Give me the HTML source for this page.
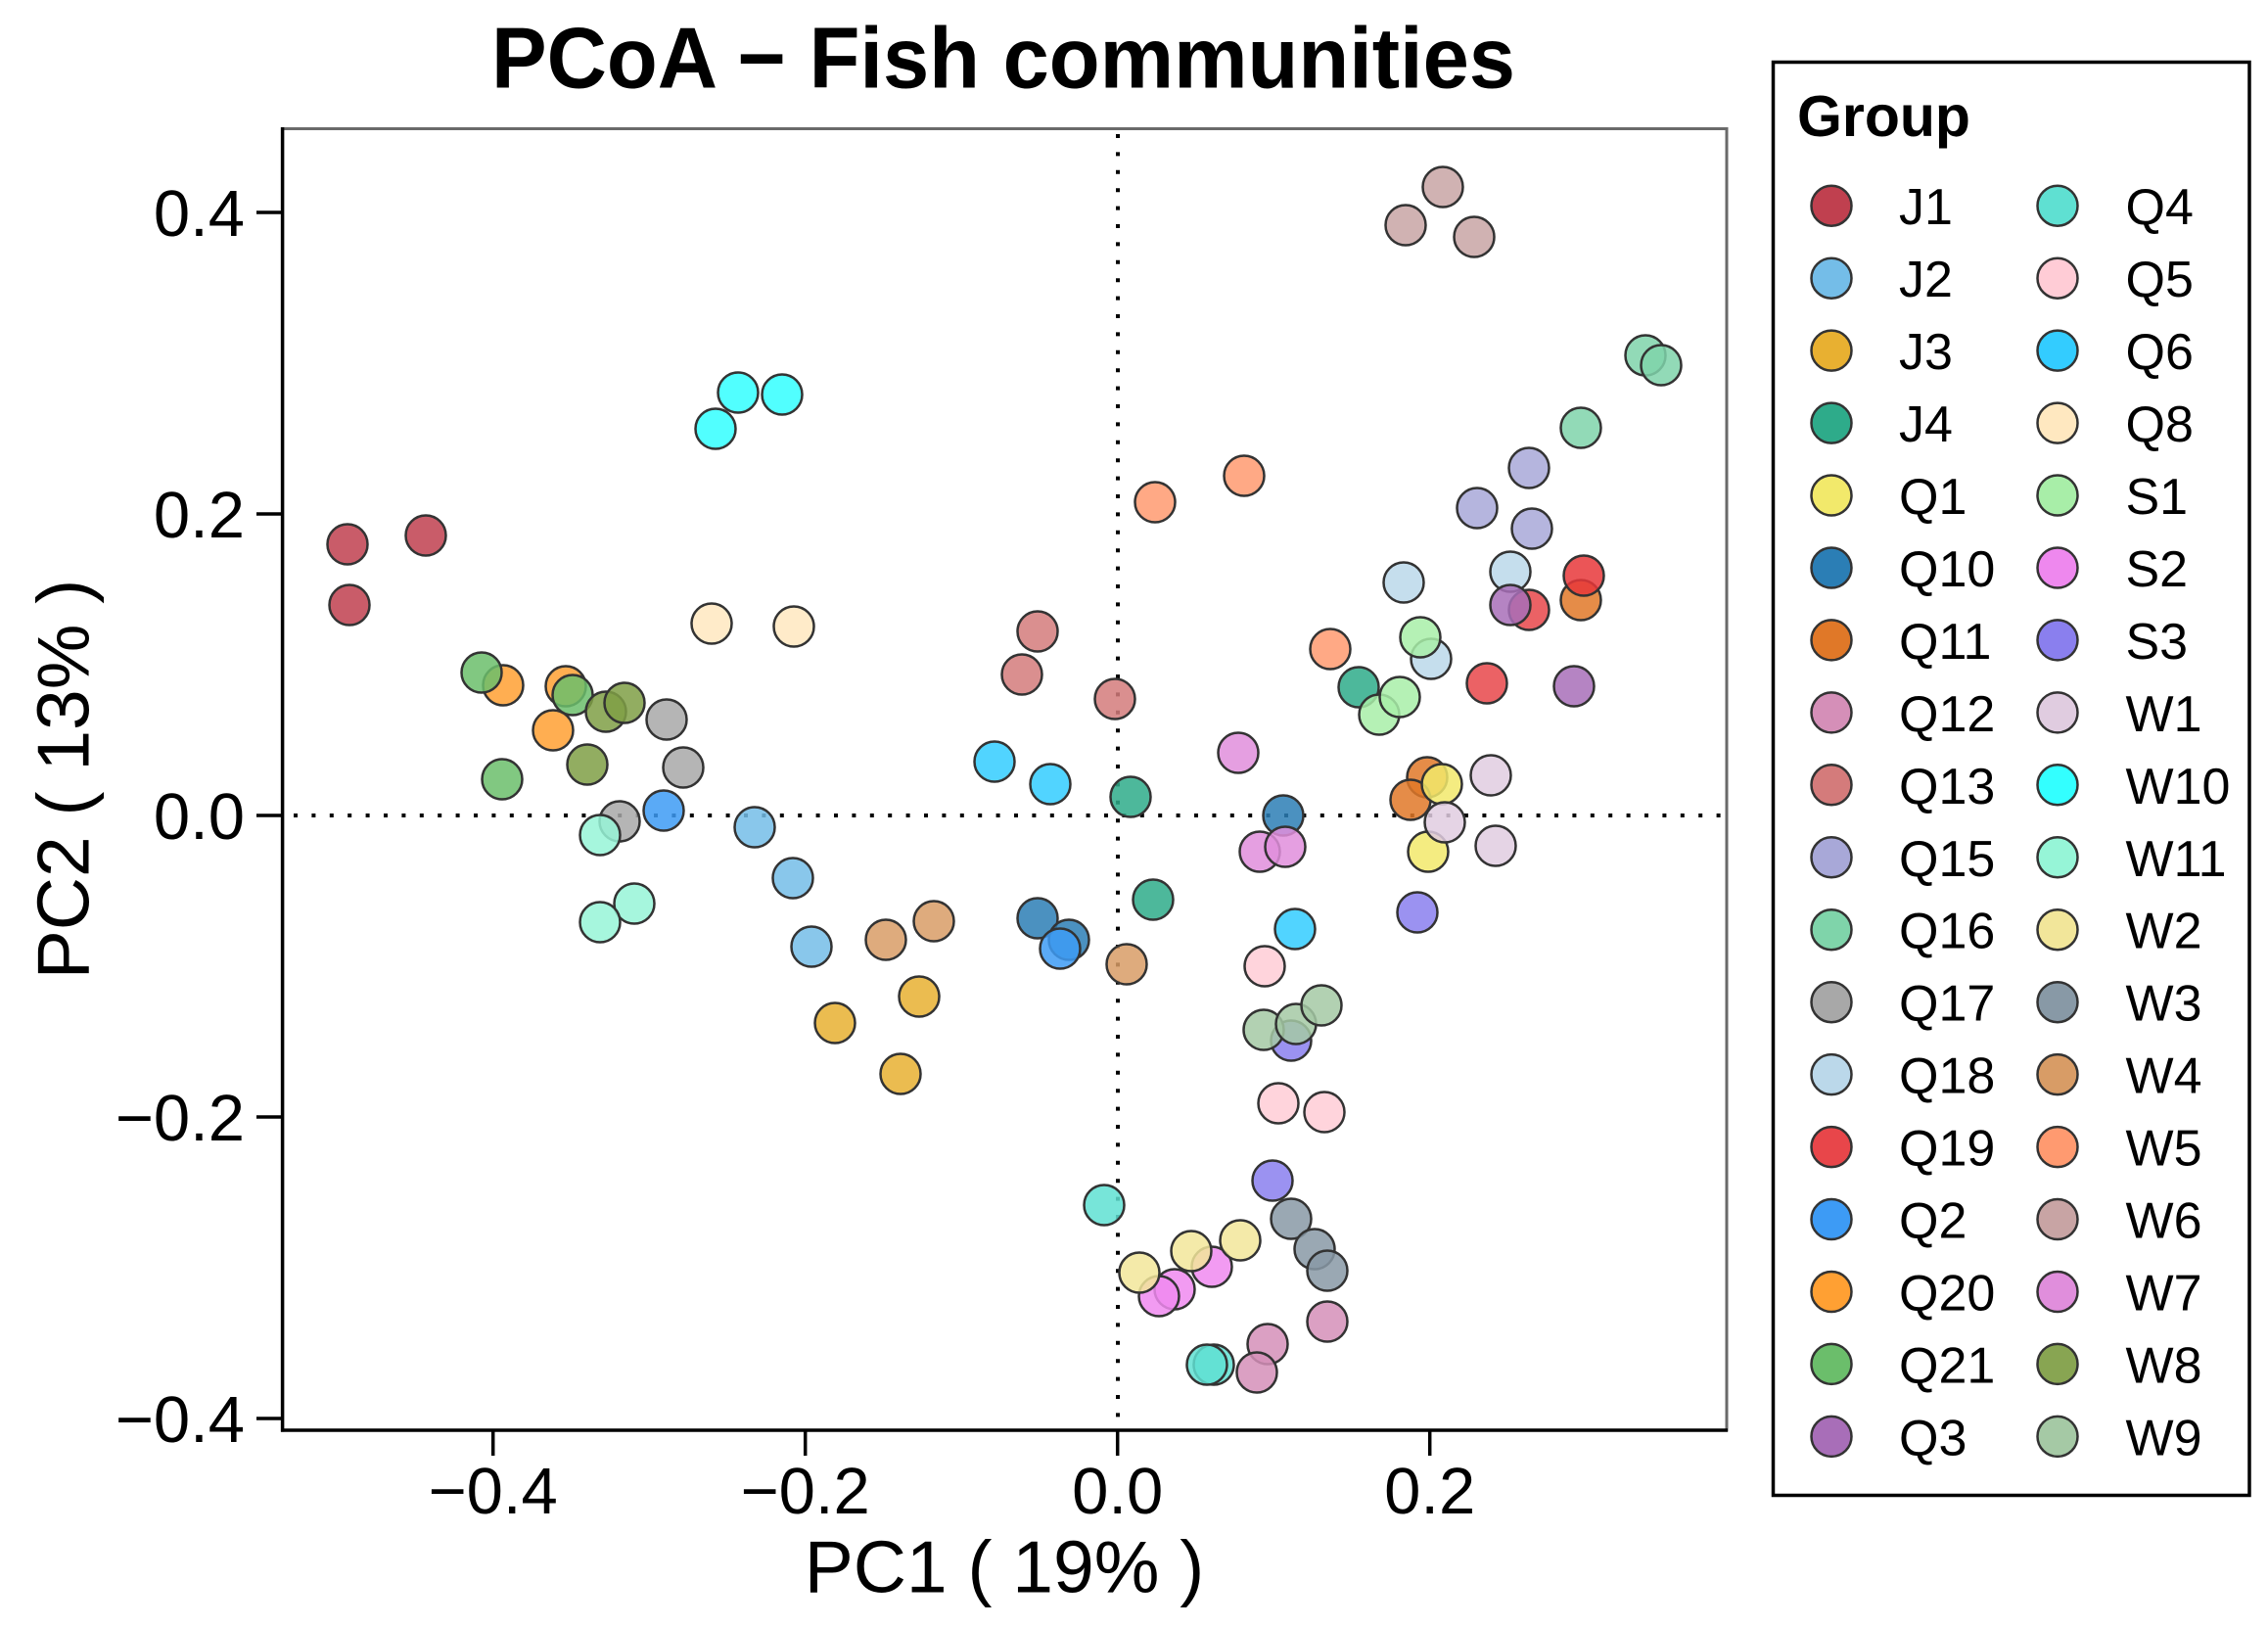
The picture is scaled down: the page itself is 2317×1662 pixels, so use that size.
<!DOCTYPE html>
<html><head><meta charset="utf-8"><style>html,body{margin:0;padding:0;background:#fff}svg{display:block}</style></head>
<body>
<svg xmlns="http://www.w3.org/2000/svg" width="2317" height="1662" viewBox="0 0 2317 1662" font-family="Liberation Sans, Arial, sans-serif">
<rect width="2317" height="1662" fill="#fff"/>
<!-- title -->
<text x="502" y="89.5" font-size="88" font-weight="bold" textLength="1046" lengthAdjust="spacingAndGlyphs">PCoA − Fish communities</text>
<!-- dotted reference lines -->
<line x1="300" y1="833" x2="1762" y2="833" stroke="#000" stroke-width="4" stroke-dasharray="4 14.4"/>
<line x1="1142" y1="137" x2="1142" y2="1459" stroke="#000" stroke-width="4" stroke-dasharray="4 14.4"/>
<!-- points -->
<g stroke="#333" stroke-width="2.5" fill-opacity="0.85">
<g fill="#C0404F"><circle cx="355" cy="556" r="20.5"/><circle cx="435" cy="547" r="20.5"/><circle cx="357" cy="618" r="20.5"/></g>
<g fill="#33FFFF"><circle cx="754" cy="401" r="20.5"/><circle cx="799" cy="403" r="20.5"/><circle cx="731" cy="438" r="20.5"/></g>
<g fill="#FFE8C0"><circle cx="727" cy="637" r="20.5"/><circle cx="811" cy="640" r="20.5"/></g>
<g fill="#FFA033"><circle cx="514" cy="700" r="20.5"/><circle cx="578" cy="701" r="20.5"/><circle cx="565" cy="746" r="20.5"/></g>
<g fill="#6BBE6B"><circle cx="492" cy="687" r="20.5"/><circle cx="513" cy="796" r="20.5"/><circle cx="585" cy="710" r="20.5"/></g>
<g fill="#7F9F45"><circle cx="619" cy="727" r="20.5"/><circle cx="638" cy="718" r="20.5"/><circle cx="600" cy="781" r="20.5"/></g>
<g fill="#A8A8A8"><circle cx="681" cy="735" r="20.5"/><circle cx="698" cy="784" r="20.5"/><circle cx="633" cy="839" r="20.5"/></g>
<g fill="#96F5D7"><circle cx="613" cy="853" r="20.5"/><circle cx="648" cy="923" r="20.5"/><circle cx="613" cy="942" r="20.5"/></g>
<g fill="#3D9BF5"><circle cx="678" cy="828" r="20.5"/></g>
<g fill="#74BDE8"><circle cx="771" cy="845" r="20.5"/><circle cx="810" cy="897" r="20.5"/><circle cx="829" cy="967" r="20.5"/></g>
<g fill="#D89C66"><circle cx="905" cy="960" r="20.5"/><circle cx="954" cy="941" r="20.5"/><circle cx="1151" cy="985" r="20.5"/></g>
<g fill="#E8B031"><circle cx="853" cy="1045" r="20.5"/><circle cx="939" cy="1018" r="20.5"/><circle cx="920" cy="1097" r="20.5"/></g>
<g fill="#33CCFF"><circle cx="1016" cy="778" r="20.5"/><circle cx="1073" cy="801" r="20.5"/><circle cx="1323" cy="949" r="20.5"/></g>
<g fill="#D47B7B"><circle cx="1060" cy="645" r="20.5"/><circle cx="1044" cy="689" r="20.5"/><circle cx="1139" cy="714" r="20.5"/></g>
<g fill="#2EAB8A"><circle cx="1155" cy="814" r="20.5"/><circle cx="1178" cy="919" r="20.5"/><circle cx="1388" cy="702" r="20.5"/></g>
<g fill="#2B7EB5"><circle cx="1311" cy="833" r="20.5"/><circle cx="1060" cy="938" r="20.5"/><circle cx="1092" cy="960" r="20.5"/></g>
<g fill="#3D9BF5"><circle cx="1083" cy="969" r="20.5"/></g>
<g fill="#E08EDC"><circle cx="1265" cy="769" r="20.5"/><circle cx="1287" cy="870" r="20.5"/><circle cx="1313" cy="865" r="20.5"/></g>
<g fill="#FFCCD6"><circle cx="1292" cy="987" r="20.5"/><circle cx="1306" cy="1127" r="20.5"/><circle cx="1353" cy="1136" r="20.5"/></g>
<g fill="#8A7FEE"><circle cx="1319" cy="1063" r="20.5"/><circle cx="1300" cy="1206" r="20.5"/><circle cx="1448" cy="932" r="20.5"/></g>
<g fill="#A5C9A5"><circle cx="1291" cy="1052" r="20.5"/><circle cx="1324" cy="1046" r="20.5"/><circle cx="1350" cy="1027" r="20.5"/></g>
<g fill="#8899A6"><circle cx="1319" cy="1245" r="20.5"/><circle cx="1343" cy="1276" r="20.5"/><circle cx="1356" cy="1298" r="20.5"/></g>
<g fill="#5FE0D2"><circle cx="1128" cy="1231" r="20.5"/><circle cx="1240" cy="1394" r="20.5"/><circle cx="1233" cy="1394" r="20.5"/></g>
<g fill="#F08AF0"><circle cx="1200" cy="1317" r="20.5"/><circle cx="1184" cy="1324" r="20.5"/><circle cx="1238" cy="1294" r="20.5"/></g>
<g fill="#F2E69A"><circle cx="1164" cy="1300" r="20.5"/><circle cx="1217" cy="1278" r="20.5"/><circle cx="1267" cy="1267" r="20.5"/></g>
<g fill="#D58FB8"><circle cx="1356" cy="1350" r="20.5"/><circle cx="1295" cy="1373" r="20.5"/><circle cx="1284" cy="1402" r="20.5"/></g>
<g fill="#FF9A70"><circle cx="1180" cy="513" r="20.5"/><circle cx="1271" cy="486" r="20.5"/><circle cx="1359" cy="663" r="20.5"/></g>
<g fill="#C8A4A4"><circle cx="1474" cy="191" r="20.5"/><circle cx="1436" cy="230" r="20.5"/><circle cx="1506" cy="242" r="20.5"/></g>
<g fill="#7FD4AA"><circle cx="1681" cy="363" r="20.5"/><circle cx="1697" cy="373" r="20.5"/><circle cx="1615" cy="437" r="20.5"/></g>
<g fill="#A8A8D8"><circle cx="1562" cy="478" r="20.5"/><circle cx="1509" cy="519" r="20.5"/><circle cx="1565" cy="540" r="20.5"/></g>
<g fill="#BBD8EA"><circle cx="1434" cy="595" r="20.5"/><circle cx="1543" cy="584" r="20.5"/><circle cx="1462" cy="673" r="20.5"/></g>
<g fill="#E8464A"><circle cx="1519" cy="698" r="20.5"/><circle cx="1562" cy="623" r="20.5"/></g>
<g fill="#A86EB8"><circle cx="1608" cy="701" r="20.5"/><circle cx="1543" cy="618" r="20.5"/></g>
<g fill="#E07828"><circle cx="1615" cy="613" r="20.5"/></g>
<g fill="#E8373A"><circle cx="1618" cy="588" r="20.5"/></g>
<g fill="#A8EEA8"><circle cx="1451" cy="651" r="20.5"/><circle cx="1409" cy="730" r="20.5"/><circle cx="1430" cy="712" r="20.5"/></g>
<g fill="#E07828"><circle cx="1458" cy="794" r="20.5"/><circle cx="1441" cy="817" r="20.5"/></g>
<g fill="#F2E96B"><circle cx="1473" cy="801" r="20.5"/><circle cx="1459" cy="870" r="20.5"/></g>
<g fill="#E0CCE0"><circle cx="1476" cy="840" r="20.5"/><circle cx="1523" cy="792" r="20.5"/><circle cx="1528" cy="864" r="20.5"/></g>
</g>
<!-- box -->
<rect x="288.6" y="131.5" width="1475.4" height="1329.5" fill="none" stroke="#6a6a6a" stroke-width="3"/>
<line x1="288.6" y1="130" x2="288.6" y2="1462.6" stroke="#000" stroke-width="3.5"/>
<line x1="287" y1="1461" x2="1765" y2="1461" stroke="#000" stroke-width="3.5"/>
<!-- ticks -->
<g stroke="#000" stroke-width="3.5">
<line x1="262" y1="217" x2="288.6" y2="217"/><line x1="262" y1="525" x2="288.6" y2="525"/><line x1="262" y1="833" x2="288.6" y2="833"/><line x1="262" y1="1141" x2="288.6" y2="1141"/><line x1="262" y1="1449" x2="288.6" y2="1449"/>
<line x1="503.7" y1="1461" x2="503.7" y2="1487"/><line x1="822.7" y1="1461" x2="822.7" y2="1487"/><line x1="1141.7" y1="1461" x2="1141.7" y2="1487"/><line x1="1460.7" y1="1461" x2="1460.7" y2="1487"/>
</g>
<g font-size="67" fill="#000">
<g text-anchor="end">
<text x="250" y="241">0.4</text><text x="250" y="549">0.2</text><text x="250" y="857">0.0</text><text x="250" y="1165">−0.2</text><text x="250" y="1473">−0.4</text>
</g>
<g text-anchor="middle">
<text x="503.7" y="1546">−0.4</text><text x="822.7" y="1546">−0.2</text><text x="1141.7" y="1546">0.0</text><text x="1460.7" y="1546">0.2</text>
</g>
</g>
<text x="1026" y="1626.5" font-size="75" text-anchor="middle">PC1 ( 19% )</text>
<text transform="translate(90.5,796) rotate(-90)" font-size="75" text-anchor="middle">PC2 ( 13% )</text>
<!-- legend -->
<rect x="1811.5" y="63.5" width="486.5" height="1464" fill="#fff" stroke="#000" stroke-width="3.5"/>
<text x="1836" y="139" font-size="59" font-weight="bold">Group</text>
<g stroke="#333" stroke-width="2.5">
<circle cx="1871" cy="210.2" r="20.5" fill="#C0404F"/>
<circle cx="1871" cy="284.2" r="20.5" fill="#74BDE8"/>
<circle cx="1871" cy="358.1" r="20.5" fill="#E8B031"/>
<circle cx="1871" cy="432.1" r="20.5" fill="#2EAB8A"/>
<circle cx="1871" cy="506.0" r="20.5" fill="#F2E96B"/>
<circle cx="1871" cy="580.0" r="20.5" fill="#2B7EB5"/>
<circle cx="1871" cy="653.9" r="20.5" fill="#E07828"/>
<circle cx="1871" cy="727.9" r="20.5" fill="#D58FB8"/>
<circle cx="1871" cy="801.8" r="20.5" fill="#D47B7B"/>
<circle cx="1871" cy="875.8" r="20.5" fill="#A8A8D8"/>
<circle cx="1871" cy="949.7" r="20.5" fill="#7FD4AA"/>
<circle cx="1871" cy="1023.7" r="20.5" fill="#A8A8A8"/>
<circle cx="1871" cy="1097.6" r="20.5" fill="#BBD8EA"/>
<circle cx="1871" cy="1171.6" r="20.5" fill="#E8464A"/>
<circle cx="1871" cy="1245.5" r="20.5" fill="#3D9BF5"/>
<circle cx="1871" cy="1319.5" r="20.5" fill="#FFA033"/>
<circle cx="1871" cy="1393.4" r="20.5" fill="#6BBE6B"/>
<circle cx="1871" cy="1467.4" r="20.5" fill="#A86EB8"/>
<circle cx="2102" cy="210.2" r="20.5" fill="#5FE0D2"/>
<circle cx="2102" cy="284.2" r="20.5" fill="#FFCCD6"/>
<circle cx="2102" cy="358.1" r="20.5" fill="#33CCFF"/>
<circle cx="2102" cy="432.1" r="20.5" fill="#FFE8C0"/>
<circle cx="2102" cy="506.0" r="20.5" fill="#A8EEA8"/>
<circle cx="2102" cy="580.0" r="20.5" fill="#EE88EE"/>
<circle cx="2102" cy="653.9" r="20.5" fill="#8A7FEE"/>
<circle cx="2102" cy="727.9" r="20.5" fill="#E0CCE0"/>
<circle cx="2102" cy="801.8" r="20.5" fill="#33FFFF"/>
<circle cx="2102" cy="875.8" r="20.5" fill="#96F5D7"/>
<circle cx="2102" cy="949.7" r="20.5" fill="#F2E69A"/>
<circle cx="2102" cy="1023.7" r="20.5" fill="#8899A6"/>
<circle cx="2102" cy="1097.6" r="20.5" fill="#D89C66"/>
<circle cx="2102" cy="1171.6" r="20.5" fill="#FF9A70"/>
<circle cx="2102" cy="1245.5" r="20.5" fill="#C8A4A4"/>
<circle cx="2102" cy="1319.5" r="20.5" fill="#E08EDC"/>
<circle cx="2102" cy="1393.4" r="20.5" fill="#88A552"/>
<circle cx="2102" cy="1467.4" r="20.5" fill="#A5C9A5"/>
</g>
<g font-size="52" fill="#000">
<text x="1940" y="229.2">J1</text>
<text x="1940" y="303.2">J2</text>
<text x="1940" y="377.1">J3</text>
<text x="1940" y="451.1">J4</text>
<text x="1940" y="525.0">Q1</text>
<text x="1940" y="599.0">Q10</text>
<text x="1940" y="672.9">Q11</text>
<text x="1940" y="746.9">Q12</text>
<text x="1940" y="820.8">Q13</text>
<text x="1940" y="894.8">Q15</text>
<text x="1940" y="968.7">Q16</text>
<text x="1940" y="1042.7">Q17</text>
<text x="1940" y="1116.6">Q18</text>
<text x="1940" y="1190.6">Q19</text>
<text x="1940" y="1264.5">Q2</text>
<text x="1940" y="1338.5">Q20</text>
<text x="1940" y="1412.4">Q21</text>
<text x="1940" y="1486.4">Q3</text>
<text x="2171.5" y="229.2">Q4</text>
<text x="2171.5" y="303.2">Q5</text>
<text x="2171.5" y="377.1">Q6</text>
<text x="2171.5" y="451.1">Q8</text>
<text x="2171.5" y="525.0">S1</text>
<text x="2171.5" y="599.0">S2</text>
<text x="2171.5" y="672.9">S3</text>
<text x="2171.5" y="746.9">W1</text>
<text x="2171.5" y="820.8">W10</text>
<text x="2171.5" y="894.8">W11</text>
<text x="2171.5" y="968.7">W2</text>
<text x="2171.5" y="1042.7">W3</text>
<text x="2171.5" y="1116.6">W4</text>
<text x="2171.5" y="1190.6">W5</text>
<text x="2171.5" y="1264.5">W6</text>
<text x="2171.5" y="1338.5">W7</text>
<text x="2171.5" y="1412.4">W8</text>
<text x="2171.5" y="1486.4">W9</text>
</g>
</svg>
</body></html>
